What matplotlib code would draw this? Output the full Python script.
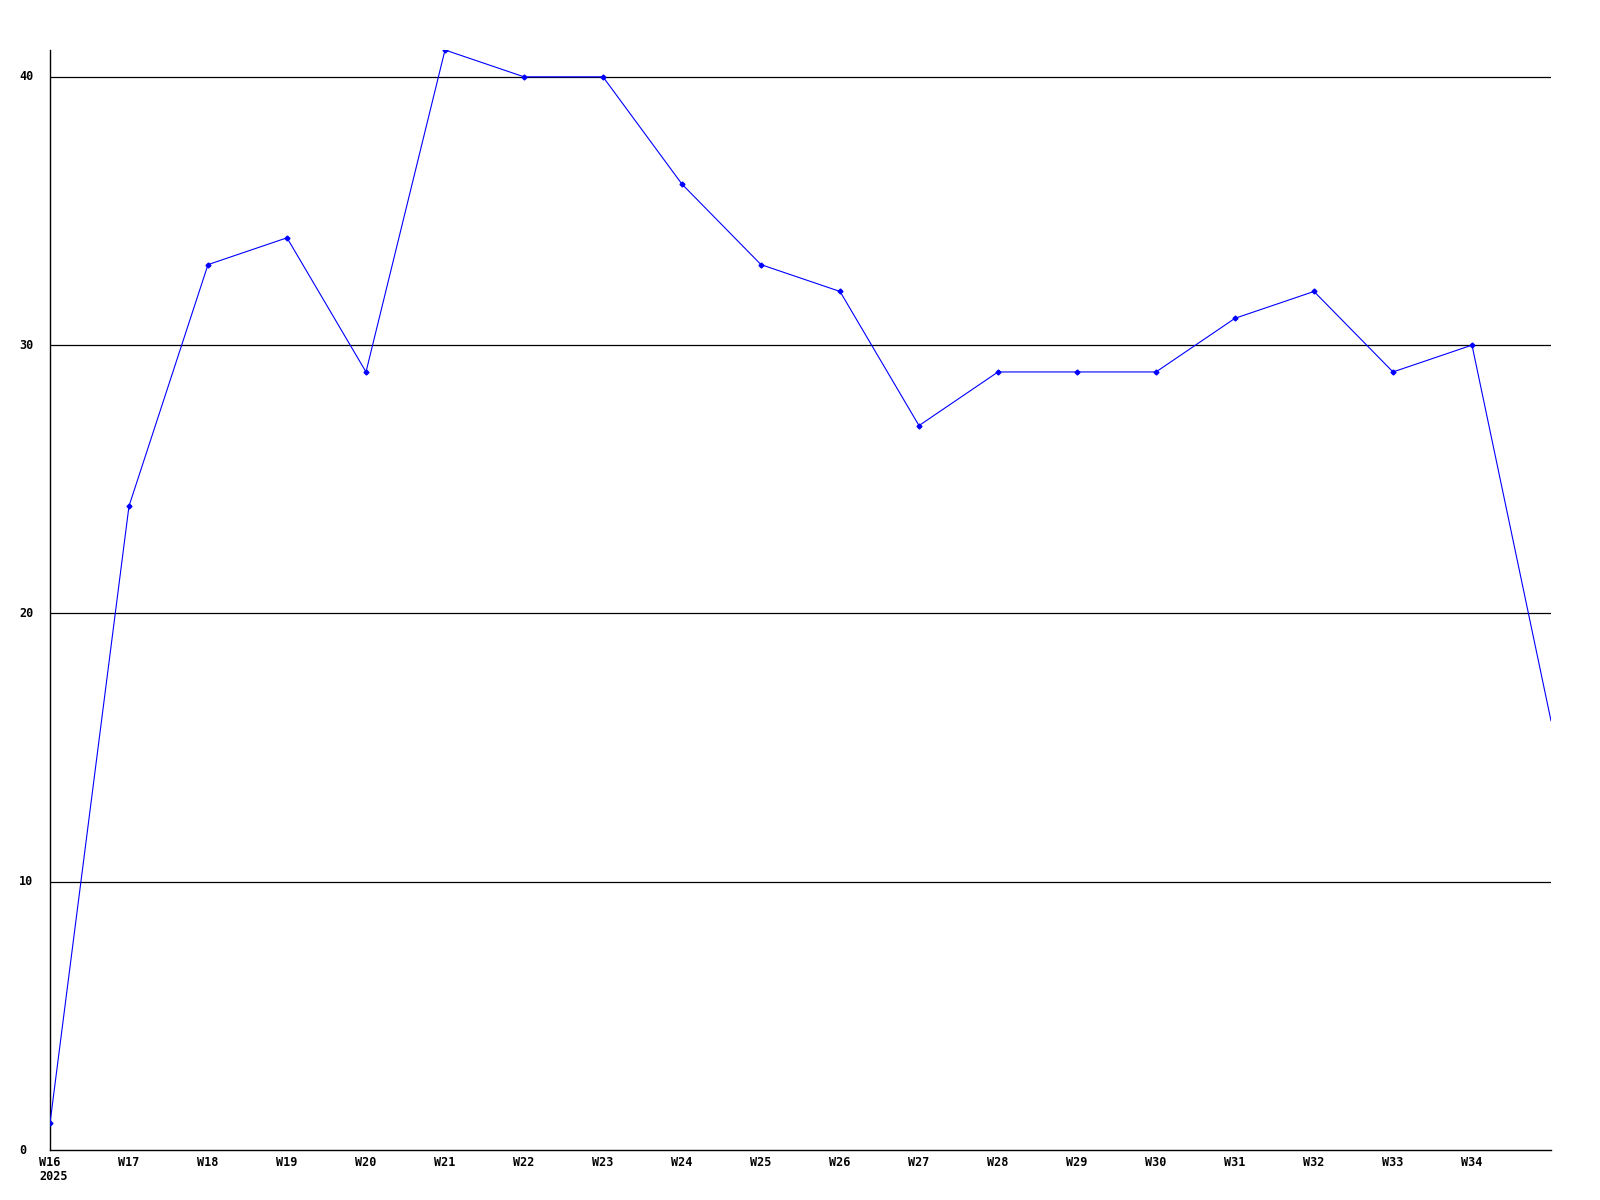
import matplotlib
matplotlib.use("Agg")
import matplotlib.pyplot as plt

weeks = ["W16", "W17", "W18", "W19", "W20", "W21", "W22", "W23", "W24", "W25",
         "W26", "W27", "W28", "W29", "W30", "W31", "W32", "W33", "W34", "W35"]
values = [1, 24, 33, 34, 29, 41, 40, 40, 36, 33,
          32, 27, 29, 29, 29, 31, 32, 29, 30, 16]
year_label = "2025"
y_ticks = [0, 10, 20, 30, 40]

font = dict(family="DejaVu Sans Mono", fontweight="bold", fontsize=8.5)

fig = plt.figure(figsize=(16, 12), dpi=100)
ax = fig.add_axes([50 / 1600, 50 / 1200, 1501 / 1600, 1100 / 1200])

x = list(range(len(weeks)))
for t in y_ticks[1:]:
    ax.axhline(t, color="black", linewidth=0.9, zorder=1)

# the last point sits on the right edge; the source clips its marker
ax.plot(x, values, color="#0000ff", linewidth=0.8, marker="D", markersize=2.5,
        markevery=list(range(len(x) - 1)), zorder=3)

ax.set_xlim(0, len(weeks) - 1)
ax.set_ylim(0, 41)

for s in ["top", "right"]:
    ax.spines[s].set_visible(False)
for s in ["left", "bottom"]:
    ax.spines[s].set_color("black")
    ax.spines[s].set_linewidth(1.0)

ax.set_xticks([])
ax.set_yticks([])

# week labels under the axis (last week sits at the right edge, unlabeled)
xt = ax.get_xaxis_transform()
for i, w in enumerate(weeks[:-1]):
    ax.text(i, -12 / 1100, w, transform=xt, ha="center", va="center", **font)
ax.text(-11 / 79, -27 / 1100, year_label, transform=xt, ha="left", va="center", **font)

yt = ax.get_yaxis_transform()
for t in y_ticks:
    ax.text(-31 / 1500, t, str(t), transform=yt, ha="left", va="center", **font)

fig.savefig("out.png", dpi=100, facecolor="white")
